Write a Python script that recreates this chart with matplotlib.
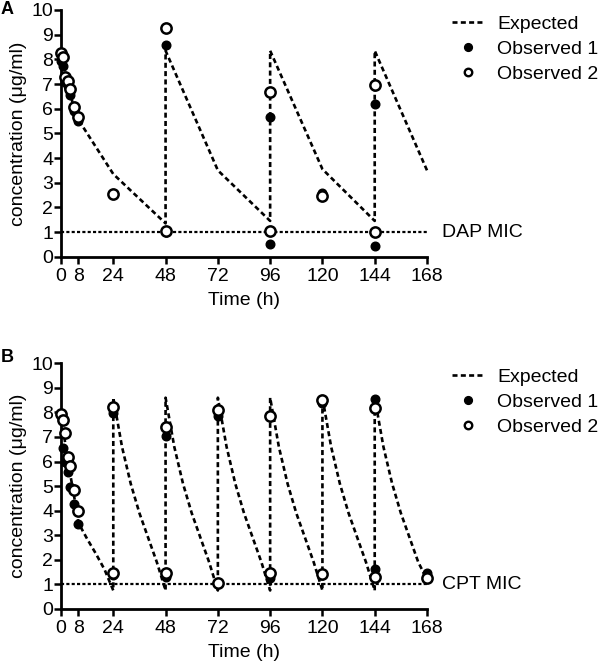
import matplotlib
matplotlib.use("Agg")
import matplotlib.pyplot as plt
from matplotlib.lines import Line2D

plt.rcParams['font.family'] = ['Liberation Sans', 'DejaVu Sans']

# ---------------- Panel A (DAP) ----------------
a_exp_t = [0, 1, 2, 3, 4, 6, 8, 24, 48, 48, 72, 96, 96, 120, 144, 144, 168]
a_exp_y = [8.1, 7.9, 7.5, 7.05, 6.7, 6.0, 5.55, 3.35, 1.35, 8.35, 3.5, 1.45, 8.35, 3.55, 1.45, 8.35, 3.5]

a_obs1_t = [0, 1, 2, 3, 4, 6, 8, 24, 48, 48, 96, 96, 120, 144, 144]
a_obs1_y = [7.95, 7.75, 7.1, 6.9, 6.55, 5.9, 5.5, 2.55, 1.0, 8.58, 0.52, 5.67, 2.58, 0.45, 6.18]

a_obs2_t = [0, 1, 2, 3, 4, 6, 8, 24, 48, 48, 96, 96, 120, 144, 144]
a_obs2_y = [8.24, 8.08, 7.3, 7.12, 6.78, 6.05, 5.65, 2.54, 1.04, 9.26, 1.04, 6.66, 2.46, 1.0, 6.96]

a_mic = 1.0
a_mic_label = "DAP MIC"

# ---------------- Panel B (CPT) ----------------
b_exp_t = [0, 1, 2, 3, 4, 6, 8, 12, 16, 20, 24,
           24, 26, 28, 32, 36, 40, 44, 48,
           48, 50, 52, 56, 60, 64, 68, 72,
           72, 74, 76, 80, 84, 88, 92, 96,
           96, 98, 100, 104, 108, 112, 116, 120,
           120, 122, 124, 128, 132, 136, 140, 144,
           144, 146, 148, 152, 156, 160, 164, 168]
b_exp_y = [8.0, 7.3, 6.7, 6.2, 5.6, 4.6, 3.5, 2.85, 2.25, 1.6, 0.75,
           8.6, 7.6, 6.6, 5.1, 3.9, 2.9, 1.9, 0.75,
           8.6, 7.6, 6.6, 5.1, 3.9, 2.9, 1.9, 0.75,
           8.6, 7.6, 6.6, 5.1, 3.9, 2.9, 1.9, 0.75,
           8.6, 7.6, 6.6, 5.1, 3.9, 2.9, 1.9, 0.75,
           8.6, 7.6, 6.6, 5.1, 3.9, 2.9, 1.9, 0.75,
           8.6, 7.6, 6.6, 5.1, 3.9, 2.9, 1.9, 1.2]

b_obs1_t = [0, 1, 2, 3, 4, 6, 8, 24, 24, 48, 48, 72, 72, 96, 96, 120, 120, 144, 144, 168]
b_obs1_y = [7.9, 6.54, 6.0, 5.59, 4.95, 4.27, 3.45, 1.4, 7.97, 1.3, 7.02, 1.05, 7.86, 1.25, 7.8, 1.4, 8.4, 1.61, 8.55, 1.45]

b_obs2_t = [0, 1, 2, 3, 4, 6, 8, 24, 24, 48, 48, 72, 72, 96, 96, 120, 120, 144, 144, 168]
b_obs2_y = [7.94, 7.69, 7.18, 6.17, 5.82, 4.84, 3.99, 1.48, 8.24, 1.48, 7.42, 1.07, 8.1, 1.48, 7.86, 1.41, 8.51, 1.31, 8.17, 1.25]

b_mic = 1.0
b_mic_label = "CPT MIC"

x_ticks = [0, 8, 24, 48, 72, 96, 120, 144, 168]
y_ticks = list(range(0, 11))
legend_labels = ["Expected", "Observed 1", "Observed 2"]
x_label = "Time (h)"
y_label = "concentration (\u03bcg/ml)"

FS = 14

fig = plt.figure(figsize=(6.0, 6.72), dpi=100)

W, H = 600.0, 672.0
left_px, right_px = 61.0, 427.0


def make_axes(top_px, bottom_px):
    return fig.add_axes([left_px / W, 1 - bottom_px / H,
                         (right_px - left_px) / W, (bottom_px - top_px) / H])


axA = make_axes(10.0, 256.7)
axB = make_axes(363.3, 608.9)

exp_dash = (0, (1.9, 1.25))
mic_dash = (0, (1.4, 1.0))


def draw(ax, et, ey, o1t, o1y, o2t, o2y, mic, mic_label, leg_top_px):
    ax.plot([0, 168], [mic, mic], color='black', lw=1.6, linestyle=mic_dash,
            zorder=2, clip_on=False)
    ax.plot(et, ey, color='black', lw=1.9, linestyle=exp_dash, zorder=3, clip_on=False)
    ax.plot(o1t, o1y, linestyle='none', marker='o', markersize=6.2,
            markerfacecolor='black', markeredgecolor='black', zorder=4, clip_on=False)
    ax.plot(o2t, o2y, linestyle='none', marker='o', markersize=7.4,
            markerfacecolor='white', markeredgecolor='black', markeredgewidth=1.8,
            zorder=5, clip_on=False)
    ax.text(175, mic, mic_label, va='center', ha='left', fontsize=FS, clip_on=False)

    ax.set_xlim(0, 168)
    ax.set_ylim(0, 10)
    ax.set_xticks(x_ticks)
    ax.set_yticks(y_ticks)
    ax.tick_params(axis='both', direction='out', length=5, width=1.8,
                   labelsize=FS)
    ax.tick_params(axis='x', pad=3)
    ax.tick_params(axis='y', pad=0.5)
    for s in ['top', 'right']:
        ax.spines[s].set_visible(False)
    for s in ['left', 'bottom']:
        ax.spines[s].set_linewidth(2.0)
    ax.set_xlabel(x_label, fontsize=FS, labelpad=5)
    ax.set_ylabel(y_label, fontsize=FS, labelpad=3)

    handles = [
        Line2D([], [], color='black', lw=1.9, linestyle=exp_dash),
        Line2D([], [], linestyle='none', marker='o', markersize=5.6,
               markerfacecolor='black', markeredgecolor='black'),
        Line2D([], [], linestyle='none', marker='o', markersize=5.4,
               markerfacecolor='white', markeredgecolor='black', markeredgewidth=1.7),
    ]
    ax.legend(handles, legend_labels, loc='upper left',
              bbox_to_anchor=(452 / W, 1 - leg_top_px / H),
              bbox_transform=fig.transFigure, frameon=False, fontsize=FS,
              handlelength=1.6, handletextpad=0.72, labelspacing=0.38,
              borderpad=0, borderaxespad=0)


draw(axA, a_exp_t, a_exp_y, a_obs1_t, a_obs1_y, a_obs2_t, a_obs2_y, a_mic, a_mic_label, 15)
draw(axB, b_exp_t, b_exp_y, b_obs1_t, b_obs1_y, b_obs2_t, b_obs2_y, b_mic, b_mic_label, 368)

fig.text(7 / W, 1 - 10 / H, "A", fontsize=13, fontweight='bold', va='center', ha='center')
fig.text(7 / W, 1 - 358 / H, "B", fontsize=13, fontweight='bold', va='center', ha='center')

fig.savefig("out.png", dpi=100)
